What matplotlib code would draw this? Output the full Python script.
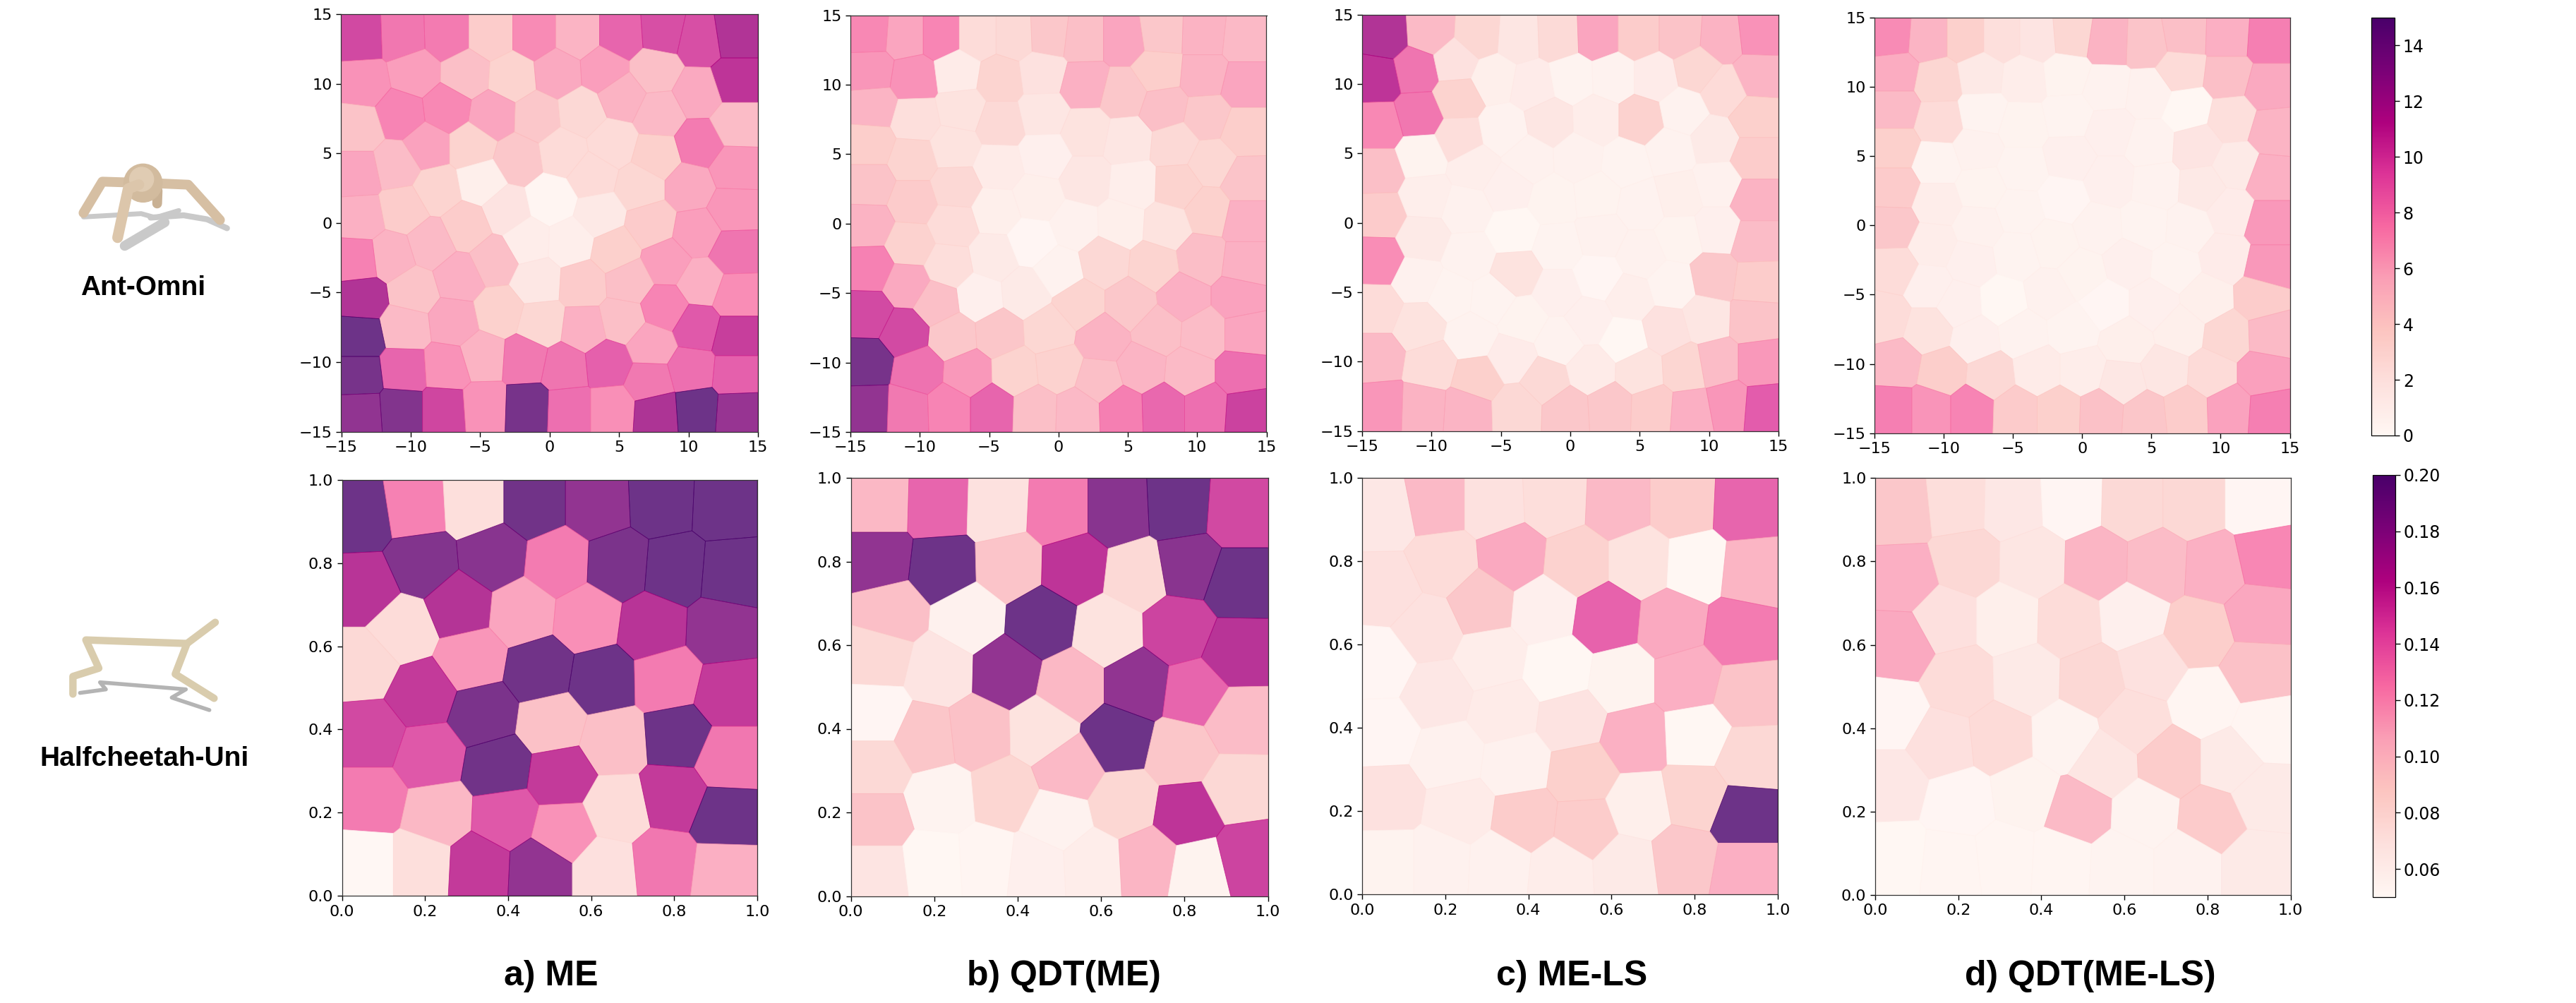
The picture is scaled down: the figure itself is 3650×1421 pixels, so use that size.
import numpy as np
import matplotlib
matplotlib.use("Agg")
import matplotlib.pyplot as plt
from matplotlib.cm import ScalarMappable
from matplotlib.colors import Normalize
from matplotlib.patches import Circle

W, H = 3650, 1421

# ===================
# Data: centre of each cell and its fitness
# ===================

ant_me_x = [-13.6,-10.6,-7.4,-4.2,-1.1,2.0,5.2,8.1,10.8,13.4,
            -13.4,-9.7,-6.0,-2.7,0.6,3.9,7.6,13.4,-10.7,-7.4,
            -4.1,-0.9,2.3,5.2,7.9,10.7,-13.8,-8.8,-5.6,-2.3,
            1.0,4.5,7.7,10.8,13.4,-13.8,-11.0,-8.1,-4.9,3.1,
            6.5,10.1,13.3,-13.6,-10.5,-3.1,0.1,3.6,7.3,10.6,
            13.2,-6.0,-8.5,-11.4,-13.8,-1.6,1.5,4.7,8.4,13.3,
            -9.8,-6.5,-4.0,-0.9,2.4,5.7,10.9,13.4,-13.5,-10.4,
            -6.9,-3.6,-0.6,2.5,5.2,8.3,10.6,13.4,-13.7,-4.8,
            -1.8,-10.5,-7.4,1.1,4.2,7.3,10.2,13.4,-13.7,7.2,
            -13.6,-10.7,-7.6,-4.7,-1.6,1.4,4.5,7.7,10.6,13.5]
ant_me_y = [13.3,13.4,13.5,13.5,13.5,13.5,13.5,13.7,13.1,13.5,
            10.1,10.8,10.7,10.5,10.8,11.0,11.0,10.2,7.8,8.2,
            7.7,7.6,7.9,9.1,7.8,9.3,6.8,5.5,5.5,4.6,
            5.1,5.7,4.8,5.7,7.1,3.5,4.1,2.4,3.0,3.4,
            2.6,2.6,3.9,0.4,1.0,0.9,1.6,0.6,-0.1,-0.7,
            1.0,-0.3,-1.5,-2.4,-2.7,-1.3,-1.4,-2.0,-2.8,-2.1,
            -4.9,-3.9,-2.7,-4.2,-4.4,-4.2,-4.3,-5.2,-5.4,-7.5,
            -7.1,-6.4,-7.2,-7.6,-7.0,-6.1,-7.5,-8.2,-8.2,-9.6,
            -9.8,-10.6,-10.4,-10.4,-10.1,-8.8,-10.6,-10.9,-11.0,-11.4,
            -13.6,-13.4,-13.4,-13.2,-13.3,-13.4,-13.4,-13.6,-13.4,-13.6]
ant_me_v = [10.3,8.2,8.0,4.0,7.3,5.5,9.0,10.0,10.0,11.8,
            7.0,6.5,4.8,3.5,6.0,6.5,4.8,11.2,7.6,7.4,
            6.2,4.3,3.1,5.6,5.2,6.0,4.6,6.3,3.5,4.3,
            2.8,2.8,3.8,8.0,5.0,6.2,5.0,3.4,1.0,2.8,
            3.2,6.0,6.8,5.7,4.0,2.1,0.4,1.6,4.1,6.5,
            6.8,4.0,5.1,5.6,7.7,1.2,1.1,3.8,6.5,8.3,
            4.6,5.8,4.8,1.8,4.1,4.8,5.8,7.2,11.8,5.1,
            6.1,3.7,3.2,5.7,4.8,7.6,9.5,10.8,15.0,5.6,
            8.1,9.0,7.0,8.3,9.2,6.2,8.5,9.2,14.5,8.1,
            13.3,14.0,10.4,7.0,14.5,8.5,7.1,12.0,15.0,13.0]

ant_qdt_x = [-13.7,-11.0,-8.5,-5.8,-3.2,-0.7,1.8,4.7,7.4,10.5,13.4,
             -13.6,-10.4,-7.3,-4.2,-1.2,1.9,4.7,7.2,10.5,13.4,
             -13.4,-10.3,-7.0,-4.2,-1.1,2.0,5.0,7.6,10.7,13.4,
             -13.6,-10.5,-7.5,-4.3,-1.0,2.0,5.4,8.4,11.0,13.5,
             -13.6,-10.5,-7.4,-4.5,-1.5,1.2,4.5,8.6,10.8,13.5,
             -13.7,-10.7,-7.6,-4.7,-1.9,7.8,10.3,13.5,
             -13.6,-10.9,-7.9,-5.7,-2.4,0.0,3.3,6.9,9.0,13.0,
             -13.7,-8.8,1.5,5.2,
             -7.6,-4.3,-0.7,3.2,7.2,10.5,13.5,-11.1,
             -13.8,-10.1,-6.5,-3.1,0.0,2.9,6.0,9.4,13.2,
             -13.7,-10.9,-7.9,-4.8,-1.7,1.4,4.5,7.6,10.6,13.6]
ant_qdt_y = [13.7,13.5,13.5,13.5,13.5,13.6,13.3,13.3,13.7,13.6,13.3,
             11.0,10.5,10.9,10.4,10.8,10.0,9.3,11.0,10.7,10.0,
             8.4,7.5,8.2,7.2,7.9,6.6,6.0,8.3,7.7,6.7,
             5.7,4.6,5.5,4.1,4.9,3.1,2.8,5.7,4.4,3.0,
             2.8,1.6,2.6,0.9,1.9,-0.1,0.0,2.7,0.9,0.3,
             -0.1,-1.5,-0.1,-2.4,-1.3,-0.2,-2.5,-2.9,
             -3.2,-4.4,-3.0,-5.3,-5.0,-3.4,-2.7,-3.0,-5.3,-5.3,
             -6.5,-5.7,-5.8,-5.8,
             -8.1,-7.9,-7.7,-8.3,-7.7,-7.9,-7.9,-7.8,
             -10.0,-10.6,-10.8,-10.7,-10.4,-11.3,-10.4,-10.7,-10.7,
             -13.3,-13.4,-13.3,-13.3,-13.4,-13.5,-13.4,-13.3,-13.3,-13.5]
ant_qdt_v = [7.4,6.2,7.5,2.7,3.0,4.3,4.8,6.2,4.3,5.6,5.2,
             6.8,7.0,1.4,3.4,2.3,5.7,4.3,3.9,5.6,6.2,
             5.5,2.5,2.2,3.0,1.9,2.2,1.9,4.8,4.3,3.9,
             3.9,3.4,2.2,1.4,0.9,1.9,1.1,3.0,3.2,4.5,
             4.6,4.1,3.1,1.0,1.0,0.8,1.0,3.5,3.7,5.7,
             5.6,3.6,2.7,1.5,0.3,2.2,4.9,5.7,
             7.7,6.0,2.6,0.9,1.5,0.7,3.1,3.4,5.8,6.3,
             10.2,4.8,3.4,4.3,
             4.3,4.4,3.2,5.6,4.8,5.0,6.2,10.2,
             14.5,8.4,6.7,3.5,3.6,4.8,5.5,5.1,8.5,
             13.2,8.1,7.6,9.0,4.8,5.2,7.8,8.9,8.5,10.6]

ant_ls_x = [-13.4,-10.1,-6.6,-3.7,-0.9,2.0,4.9,7.9,10.9,13.6,
            -13.9,-11.1,-8.3,-5.5,-2.7,0.1,3.1,6.1,9.1,13.5,11.1,
            -13.8,-10.9,-8.1,-8.0,-4.8,-1.5,1.9,5.1,8.1,10.4,13.3,
            -13.8,-10.7,-6.9,-3.0,0.6,4.0,7.2,13.3,
            -13.7,-10.4,-7.5,-4.5,-1.2,1.9,5.1,7.8,10.6,13.3,
            -13.8,-10.6,-7.3,-4.1,-0.9,2.2,5.1,7.9,10.6,13.3,
            -11.0,-8.6,-5.6,-3.9,-0.9,2.0,4.3,7.3,10.4,13.4,
            -13.9,-10.9,-7.1,-3.4,-0.8,1.3,3.9,6.9,9.8,13.2,
            -13.9,-10.0,-6.7,-4.2,-1.8,1.5,5.0,8.3,10.6,13.6,
            -13.6,-10.6,-7.5,-3.8,-0.3,2.9,5.9,8.7,11.4,13.9]
ant_ls_y = [13.5,13.7,13.5,13.3,13.4,13.5,13.5,13.5,13.3,13.6,
            10.4,11.0,11.6,10.4,9.9,10.4,10.5,10.5,11.1,10.6,9.5,
            7.0,7.8,9.0,6.1,6.7,7.3,7.4,7.4,8.0,5.9,7.6,
            3.7,4.8,4.0,4.6,4.7,4.3,5.2,4.7,
            0.6,1.9,1.0,2.5,1.6,1.9,1.3,2.0,2.8,1.6,
            -2.7,-1.1,-2.4,-0.6,-1.7,-0.9,-2.3,-1.1,-0.5,-1.3,
            -4.1,-5.2,-5.5,-3.6,-5.0,-3.9,-5.4,-4.5,-3.9,-4.3,
            -6.2,-7.4,-8.2,-7.0,-8.5,-7.0,-8.4,-7.7,-6.9,-7.0,
            -9.7,-10.3,-11.2,-9.7,-11.4,-10.6,-10.7,-10.5,-10.1,-10.1,
            -13.2,-13.3,-13.5,-13.4,-13.5,-13.3,-13.4,-13.6,-13.1,-13.3]
ant_ls_v = [11.8,5.1,3.2,1.9,2.9,6.2,4.0,4.6,5.6,7.0,
            11.2,8.3,2.3,1.0,1.3,0.5,0.7,1.3,3.2,5.5,2.8,
            7.4,8.2,3.5,2.6,0.7,1.9,1.2,3.6,0.7,1.5,3.8,
            4.8,0.6,1.1,0.8,0.8,0.5,0.7,4.0,
            4.1,1.1,0.8,0.9,0.6,0.6,0.7,1.0,0.8,5.6,
            7.2,1.5,0.7,0.2,0.5,0.8,0.8,0.6,0.9,5.0,
            0.8,0.5,0.5,2.2,0.9,0.3,1.1,0.5,4.3,4.0,
            2.7,2.2,0.7,0.6,0.7,0.9,0.2,2.3,1.9,4.6,
            5.1,2.7,3.8,1.3,3.0,1.4,2.2,3.3,5.0,6.7,
            6.8,5.6,5.5,3.1,4.3,4.3,4.0,5.8,6.8,9.4]

ant_lsqdt_x = [-13.8,-11.1,-8.4,-5.8,-3.2,-0.8,1.9,4.6,7.4,10.5,13.5,
               -13.5,-10.4,-7.3,-4.2,-1.2,1.8,4.8,7.2,10.5,13.5,
               -13.5,-10.3,-7.2,-4.3,-1.0,2.0,4.9,7.6,10.8,13.8,
               -13.5,-10.5,-7.6,-4.3,-0.9,2.0,5.3,8.3,11.1,13.5,
               -13.5,-10.5,-7.3,-4.5,-1.4,1.2,4.5,8.7,10.7,13.5,
               -13.6,-10.8,-7.5,-4.7,-2.1,7.7,10.3,13.5,
               -13.5,-11.1,-8.0,-8.9,-5.7,-2.4,0.0,3.3,6.7,9.0,12.9,
               -14.2,-11.1,-7.7,-4.3,-0.7,1.7,5.1,3.2,7.1,10.5,13.6,
               -13.4,-10.1,-6.6,-3.2,0.0,2.9,6.0,9.3,13.1,
               -13.6,-11.0,-8.0,-4.8,-1.7,1.4,4.5,7.5,10.6,13.6]
ant_lsqdt_y = [13.7,13.5,13.5,13.5,13.5,13.7,13.3,13.2,13.7,13.6,13.4,
               11.0,10.4,10.9,10.6,10.9,9.9,9.5,11.2,10.8,10.0,
               8.4,7.5,8.1,7.2,7.9,6.8,5.9,8.4,7.7,6.8,
               5.6,4.5,5.5,4.1,4.9,3.2,2.9,5.7,4.3,3.4,
               2.7,1.6,2.7,1.0,1.9,-0.2,0.0,2.7,1.0,0.2,
               -0.1,-1.4,-0.1,-2.1,-1.3,-0.2,-2.3,-3.0,
               -3.2,-4.4,-2.6,-5.7,-5.5,-4.9,-3.5,-2.7,-3.0,-5.3,-5.2,
               -6.6,-7.5,-8.2,-7.8,-7.5,-5.7,-5.7,-8.4,-7.6,-8.0,-7.9,
               -10.0,-10.6,-10.9,-10.5,-10.5,-11.3,-10.5,-10.7,-10.7,
               -13.3,-13.3,-13.3,-13.4,-13.4,-13.5,-13.7,-13.4,-13.3,-13.5]
ant_lsqdt_v = [7.3,5.5,3.8,2.5,2.0,3.2,5.6,4.5,4.8,5.8,7.8,
               5.9,3.3,1.6,1.2,0.6,0.7,0.8,2.8,4.8,6.0,
               5.1,2.8,0.5,0.6,0.5,0.9,0.7,0.2,2.5,5.5,
               3.8,0.5,0.8,0.5,0.9,0.9,0.7,2.0,1.5,5.7,
               4.1,1.2,0.6,0.5,0.3,0.7,0.5,1.6,1.3,6.7,
               4.3,1.2,0.8,0.5,0.6,0.7,1.3,6.7,
               2.7,0.9,0.9,0.9,0.2,0.8,0.6,0.9,0.5,1.0,4.0,
               2.7,2.2,0.9,0.7,0.5,0.3,0.9,1.0,1.0,3.2,5.1,
               5.1,3.9,3.1,1.4,1.2,1.8,1.9,2.8,6.4,
               7.8,6.9,7.6,4.1,3.8,4.7,4.4,4.0,6.3,7.8]

hc_me_x = [.046,.175,.318,.461,.615,.769,.923,.054,.193,.365,
           .519,.665,.801,.937,.147,.283,.433,.59,.747,.912,
           .054,.311,.476,.626,.783,.93,.193,.068,.34,.504,
           .655,.808,.211,.376,.526,.93,.068,.232,.393,.533,
           .662,.798,.923,.057,.19,.329,.476,.633,.776,.919]
hc_me_y = [.914,.934,.942,.942,.942,.949,.942,.738,.801,.816,
           .801,.795,.784,.773,.64,.696,.682,.668,.647,.64,
           .555,.569,.541,.517,.52,.485,.485,.386,.436,.414,
           .372,.383,.337,.309,.288,.33,.232,.196,.189,.154,
           .21,.239,.189,.077,.077,.07,.063,.063,.077,.059]
hc_me_v = [.2,.127,.075,.198,.182,.2,.2,.165,.19,.187,
           .13,.193,.2,.2,.077,.167,.112,.121,.165,.182,
           .08,.118,.198,.2,.13,.16,.16,.153,.193,.097,
           .098,.2,.146,.198,.16,.132,.13,.103,.146,.12,
           .077,.16,.2,.051,.075,.16,.182,.074,.132,.108]

hc_qdt_x = [.066,.209,.351,.497,.64,.786,.928,.066,.219,.38,
            .536,.686,.807,.928,.095,.283,.458,.615,.786,.925,
            .066,.212,.373,.529,.686,.825,.059,.18,.305,.458,
            .64,.793,.928,.059,.369,.522,.216,.654,.807,.925,
            .059,.494,.059,.202,.323,.444,.579,.711,.835,.949]
hc_qdt_y = [.935,.931,.927,.92,.92,.927,.917,.805,.787,.791,
            .787,.77,.791,.749,.679,.665,.654,.633,.637,.581,
            .574,.539,.535,.504,.504,.486,.434,.378,.392,.395,
            .378,.343,.42,.308,.245,.304,.231,.22,.196,.259,
            .182,.182,.059,.077,.084,.07,.077,.084,.063,.091]
hc_qdt_v = [.103,.14,.073,.13,.187,.2,.153,.183,.2,.095,
            .162,.08,.186,.2,.098,.058,.2,.072,.155,.165,
            .08,.07,.182,.103,.183,.14,.053,.094,.097,.072,
            .2,.094,.1,.08,.083,.102,.055,.082,.162,.081,
            .096,.057,.07,.052,.054,.059,.062,.104,.056,.155]

hc_ls_x = [.055,.177,.316,.462,.616,.77,.924,.059,.195,.362,
           .516,.67,.802,.938,.159,.287,.438,.588,.745,.909,
           .044,.309,.473,.623,.784,.924,.18,.051,.341,.505,
           .655,.806,.209,.37,.53,.931,.059,.237,.391,.538,
           .666,.802,.92,.062,.187,.33,.477,.634,.773,.92]
hc_ls_y = [.913,.937,.937,.944,.937,.937,.93,.733,.796,.81,
           .796,.796,.789,.775,.638,.698,.684,.663,.649,.628,
           .551,.565,.537,.515,.515,.48,.48,.389,.438,.417,
           .375,.382,.333,.312,.291,.326,.228,.199,.178,.161,
           .21,.235,.189,.08,.08,.073,.059,.066,.084,.059]
hc_ls_v = [.067,.102,.073,.076,.102,.09,.14,.074,.077,.11,
           .086,.072,.052,.104,.073,.093,.059,.141,.11,.13,
           .053,.062,.052,.056,.108,.096,.067,.053,.064,.071,
           .107,.052,.058,.058,.088,.081,.073,.064,.09,.09,
           .06,.084,.2,.056,.058,.058,.062,.065,.093,.108]

hc_lsqdt_x = [.061,.197,.33,.472,.619,.766,.919,.069,.219,.38,
              .533,.68,.816,.941,.169,.319,.465,.619,.78,.926,
              .061,.204,.365,.523,.665,.919,.04,.162,.301,.455,
              .626,.791,.941,.04,.204,.362,.551,.712,.855,.49,
              .648,.812,.933,.047,.183,.312,.447,.59,.751,.916]
hc_lsqdt_y = [.924,.938,.935,.942,.938,.938,.938,.759,.801,.798,
              .794,.791,.784,.812,.661,.661,.657,.668,.629,.671,
              .601,.513,.517,.513,.545,.538,.433,.362,.376,.38,
              .419,.461,.397,.264,.222,.243,.313,.32,.32,.201,
              .194,.18,.236,.088,.074,.088,.081,.074,.074,.074]
hc_lsqdt_v = [.093,.076,.067,.053,.08,.081,.053,.108,.081,.069,
              .104,.1,.107,.125,.074,.06,.077,.059,.089,.111,
              .11,.077,.065,.081,.073,.097,.053,.074,.078,.055,
              .075,.054,.054,.067,.053,.056,.069,.09,.065,.101,
              .055,.091,.065,.052,.054,.054,.054,.055,.057,.065]

col_titles = ["a) ME", "b) QDT(ME)", "c) ME-LS", "d) QDT(ME-LS)"]
title_px = [781, 1507, 2227, 2962]

ant_ticks = [-15, -10, -5, 0, 5, 10, 15]
hc_ticks = [0.0, 0.2, 0.4, 0.6, 0.8, 1.0]
ant_cbar_ticks = [0, 2, 4, 6, 8, 10, 12, 14]
hc_cbar_ticks = [0.06, 0.08, 0.10, 0.12, 0.14, 0.16, 0.18, 0.20]

# Panel boxes in pixels: left, right, top, bottom
ant_boxes = [(483.5, 1074, 20, 611.5), (1205, 1794.5, 21.5, 612),
             (1930, 2520, 20.7, 610.7), (2656, 3244.5, 25, 613.6)]
hc_boxes = [(484.7, 1073, 680, 1269), (1205.6, 1796.5, 677, 1269.5),
            (1930, 2519, 676.6, 1267), (2657, 3245.7, 677.4, 1267.8)]

ant_panels = [(ant_me_x, ant_me_y, ant_me_v), (ant_qdt_x, ant_qdt_y, ant_qdt_v),
              (ant_ls_x, ant_ls_y, ant_ls_v), (ant_lsqdt_x, ant_lsqdt_y, ant_lsqdt_v)]
hc_panels = [(hc_me_x, hc_me_y, hc_me_v), (hc_qdt_x, hc_qdt_y, hc_qdt_v),
             (hc_ls_x, hc_ls_y, hc_ls_v), (hc_lsqdt_x, hc_lsqdt_y, hc_lsqdt_v)]

cmap = plt.get_cmap("RdPu")
ant_norm = Normalize(0, 15)
hc_norm = Normalize(0.05, 0.20)


def add_axes_px(left, right, top, bottom):
    return fig.add_axes([left / W, 1 - bottom / H, (right - left) / W, (bottom - top) / H])


def clip_half_plane(poly, p, q):
    # keep the part of poly that is nearer to p than to q
    mid = (p + q) / 2
    normal = q - p
    out = []
    for i in range(len(poly)):
        a, b = poly[i], poly[(i + 1) % len(poly)]
        da, db = np.dot(a - mid, normal), np.dot(b - mid, normal)
        if da <= 0:
            out.append(a)
        if da * db < 0:
            out.append(a + (b - a) * da / (da - db))
    return out


def voronoi_cells(seeds, lo, hi):
    cells = []
    for i, p in enumerate(seeds):
        poly = [np.array(c, dtype=float) for c in [(lo, lo), (hi, lo), (hi, hi), (lo, hi)]]
        for j, q in enumerate(seeds):
            if i != j and len(poly) > 0:
                poly = clip_half_plane(poly, p, q)
        cells.append(np.array(poly))
    return cells


def draw_panel(box, panel, lo, hi, norm, ticks):
    ax = add_axes_px(*box)
    seeds = np.column_stack(panel[:2])
    values = np.array(panel[2])
    for cell, val in zip(voronoi_cells(seeds, lo, hi), values):
        ax.fill(cell[:, 0], cell[:, 1], color=cmap(norm(val)), alpha=0.8, lw=0.6)
    ax.set_xlim(lo, hi)
    ax.set_ylim(lo, hi)
    ax.set_xticks(ticks)
    ax.set_yticks(ticks)
    ax.tick_params(labelsize=16, length=5, width=1, pad=4)
    for s in ax.spines.values():
        s.set_linewidth(0.9)
        s.set_color("#333333")
    return ax


fig = plt.figure(figsize=(W / 100, H / 100), dpi=100)

for box, panel in zip(ant_boxes, ant_panels):
    draw_panel(box, panel, -15, 15, ant_norm, ant_ticks)
for box, panel in zip(hc_boxes, hc_panels):
    draw_panel(box, panel, 0, 1, hc_norm, hc_ticks)

# colour bars
cax1 = add_axes_px(3360, 3393, 25, 617)
cb1 = fig.colorbar(ScalarMappable(norm=ant_norm, cmap=cmap), cax=cax1, ticks=ant_cbar_ticks)
cax2 = add_axes_px(3362, 3394, 673, 1271)
cb2 = fig.colorbar(ScalarMappable(norm=hc_norm, cmap=cmap), cax=cax2, ticks=hc_cbar_ticks)
cb2.ax.set_yticklabels(["%.2f" % t for t in hc_cbar_ticks])
for cb in (cb1, cb2):
    cb.ax.tick_params(labelsize=17, length=5, width=1)
    cb.outline.set_linewidth(0.9)

# overlay for the text and the two robot sketches, in image pixels
ov = fig.add_axes([0, 0, 1, 1], zorder=-1)
ov.set_xlim(0, W)
ov.set_ylim(H, 0)
ov.axis("off")

bold = dict(family=["Liberation Sans", "DejaVu Sans"], fontweight="bold", ha="center", va="center")
for name, x in zip(col_titles, title_px):
    ov.text(x, 1383, name, fontsize=36, **bold)
ov.text(203, 408, "Ant-Omni", fontsize=28, **bold)
ov.text(205, 1075, "Halfcheetah-Uni", fontsize=28, **bold)


def limb(pts, x0, y0, color, width, z=2):
    xs = [x0 + p[0] / 3 for p in pts]
    ys = [y0 + p[1] / 3 for p in pts]
    ov.plot(xs, ys, color=color, lw=width, solid_capstyle="round", solid_joinstyle="round", zorder=z)


tan = "#d6bfa3"
shadow = "#c9c9c9"
limb([(355, 382), (600, 368), (660, 385), (760, 355)], 0, 180, shadow, 5, 1)
limb([(640, 385), (780, 375), (880, 392), (965, 430)], 0, 180, shadow, 6, 1)
limb([(700, 405), (530, 505)], 0, 180, shadow, 10, 1)
limb([(670, 270), (668, 325)], 0, 180, "#c9b194", 10, 2)
limb([(530, 235), (435, 232), (355, 365)], 0, 180, tan, 10, 2)
limb([(685, 240), (800, 245), (935, 395)], 0, 180, tan, 10, 2)
ov.add_patch(Circle((608 / 3, 180 + 238 / 3), 27, color="#d2bb9e", zorder=3))
ov.add_patch(Circle((602 / 3, 180 + 222 / 3), 17, color="#e0ccb3", zorder=3))
limb([(590, 245), (545, 262), (500, 470)], 0, 180, "#dcc6ab", 11, 4)

sand = "#d9ccad"
limb([(340, 425), (450, 410), (425, 380), (790, 410), (730, 445), (890, 498)], 0, 840, "#b4b4b4", 4, 1)
limb([(310, 430), (310, 355), (420, 320), (365, 200), (795, 215), (915, 125)], 0, 840, sand, 7.5, 2)
limb([(795, 215), (745, 345), (910, 448)], 0, 840, sand, 7.5, 2)

fig.savefig("out.png", dpi=100)
